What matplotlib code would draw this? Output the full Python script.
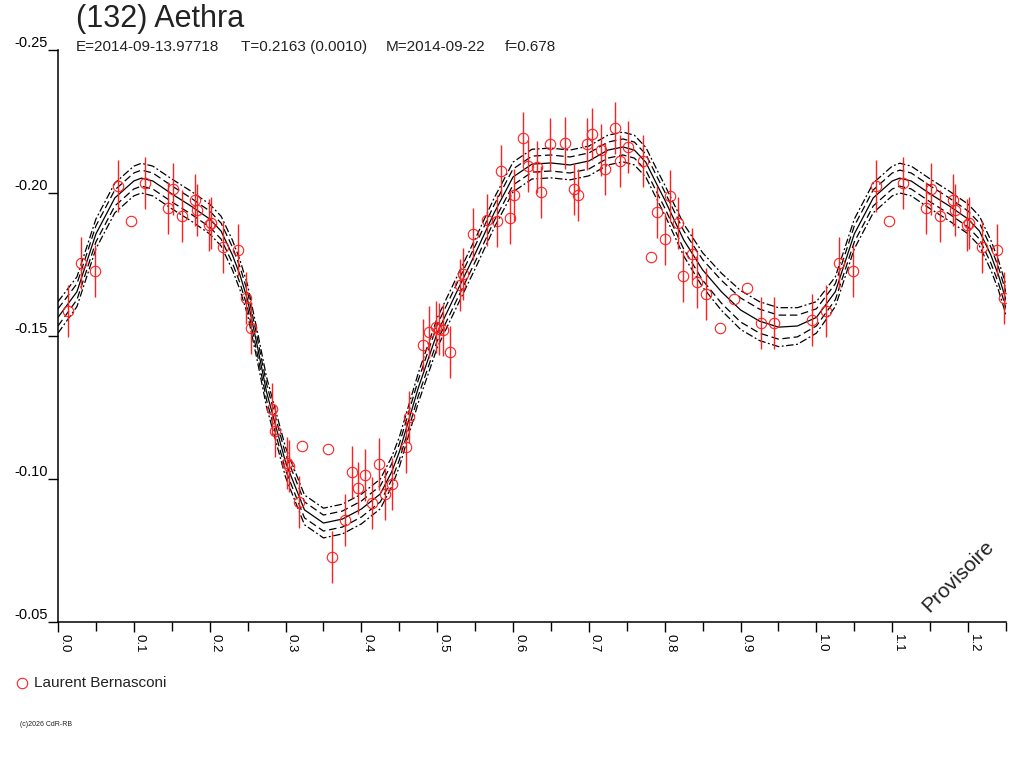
import numpy as np
import matplotlib
import matplotlib.pyplot as plt
from matplotlib.ticker import MultipleLocator, FormatStrFormatter

matplotlib.use("agg")
plt.rcParams['font.family'] = ['Liberation Sans', 'DejaVu Sans']
plt.rcParams['axes.unicode_minus'] = False

# Observations (phase, relative magnitude, 1-sigma error; 0 = no bar drawn)
obs_phase = [0.0132, 0.0303, 0.0488, 0.0792, 0.0963, 0.1148, 0.1451, 0.1517, 0.1636, 0.1807,
             0.1834, 0.1992, 0.2018, 0.2177, 0.2375, 0.2480, 0.2546, 0.2823, 0.2863, 0.3021,
             0.3047, 0.3179, 0.3219, 0.3562, 0.3615, 0.3786, 0.3879, 0.3958, 0.4050, 0.4142,
             0.4235, 0.4314, 0.4406, 0.4591, 0.4631, 0.4815, 0.4894, 0.4987, 0.5026, 0.5079,
             0.5172, 0.5303, 0.5343, 0.5475, 0.5660, 0.5792, 0.5844, 0.5963, 0.6016, 0.6135,
             0.6201, 0.6319, 0.6372, 0.6491, 0.6689, 0.6807, 0.6860, 0.6979, 0.7045, 0.7164,
             0.7216, 0.7348, 0.7414, 0.7520, 0.7718, 0.7823, 0.7902, 0.8008, 0.8074, 0.8179,
             0.8245, 0.8364, 0.8430, 0.8549, 0.8734, 0.8918, 0.9090, 0.9274, 0.9446, 0.9947]
obs_mag = [-0.1587, -0.1755, -0.1727, -0.2024, -0.1902, -0.2035, -0.1948, -0.2014, -0.1920, -0.1976,
           -0.1941, -0.1888, -0.1895, -0.1811, -0.1801, -0.1633, -0.1528, -0.1245, -0.1168, -0.1056,
           -0.1045, -0.0920, -0.1115, -0.1105, -0.0727, -0.0857, -0.1025, -0.0969, -0.1014, -0.0916,
           -0.1052, -0.0948, -0.0983, -0.1112, -0.1217, -0.1469, -0.1514, -0.1532, -0.1524, -0.1521,
           -0.1444, -0.1678, -0.1717, -0.1857, -0.1906, -0.1902, -0.2077, -0.1913, -0.1993, -0.2192,
           -0.2094, -0.2091, -0.2003, -0.2171, -0.2175, -0.2014, -0.1993, -0.2171, -0.2206, -0.2150,
           -0.2084, -0.2227, -0.2112, -0.2161, -0.2112, -0.1776, -0.1934, -0.1839, -0.1990, -0.1895,
           -0.1710, -0.1787, -0.1689, -0.1647, -0.1528, -0.1629, -0.1668, -0.1545, -0.1545, -0.1556]
obs_err = [0.009, 0.009, 0.009, 0.009, 0.0, 0.009, 0.009, 0.009, 0.009, 0.009,
           0.009, 0.009, 0.009, 0.009, 0.009, 0.009, 0.009, 0.009, 0.009, 0.009,
           0.009, 0.009, 0.0, 0.0, 0.009, 0.009, 0.009, 0.009, 0.009, 0.009,
           0.009, 0.009, 0.009, 0.009, 0.009, 0.009, 0.009, 0.009, 0.009, 0.009,
           0.009, 0.009, 0.009, 0.009, 0.009, 0.009, 0.009, 0.009, 0.009, 0.009,
           0.009, 0.009, 0.009, 0.009, 0.009, 0.009, 0.009, 0.009, 0.009, 0.009,
           0.009, 0.009, 0.009, 0.009, 0.009, 0.0, 0.009, 0.009, 0.009, 0.009,
           0.009, 0.009, 0.009, 0.009, 0.0, 0.0, 0.0, 0.009, 0.009, 0.009]

# Fitted curve, with the two envelopes (half widths)
fit_phase = [0.0, 0.025, 0.05, 0.075, 0.1, 0.11, 0.125, 0.15, 0.175, 0.2, 0.215, 0.23,
             0.24, 0.25, 0.2625, 0.275, 0.3, 0.325, 0.35, 0.375, 0.4, 0.425, 0.44, 0.45,
             0.475, 0.5, 0.525, 0.55, 0.575, 0.6, 0.625, 0.65, 0.675, 0.7, 0.725, 0.745,
             0.76, 0.775, 0.79, 0.8, 0.825, 0.85, 0.875, 0.9, 0.925, 0.95, 0.975, 1.0]
fit_mag = [-0.1565, -0.1655, -0.1857, -0.1983, -0.2042, -0.2052, -0.2042, -0.1997, -0.1955, -0.1909,
           -0.1867, -0.1783, -0.1713, -0.1626, -0.1469, -0.1304, -0.1059, -0.0892, -0.0846, -0.0860,
           -0.0895, -0.0948, -0.1025, -0.1094, -0.1318, -0.1511, -0.1650, -0.1787, -0.1930, -0.2056,
           -0.2101, -0.2105, -0.2098, -0.2112, -0.2150, -0.2161, -0.2150, -0.2108, -0.2028, -0.1976,
           -0.1836, -0.1731, -0.1654, -0.1591, -0.1552, -0.1531, -0.1535, -0.1565]
band1 = [0.0030, 0.0028, 0.0028, 0.0028, 0.0028, 0.0028, 0.0028, 0.0028, 0.0028, 0.0028,
         0.0028, 0.0028, 0.0028, 0.0028, 0.0028, 0.0028, 0.0028, 0.0028, 0.0028, 0.0028,
         0.0028, 0.0028, 0.0028, 0.0028, 0.0028, 0.0028, 0.0028, 0.0028, 0.0028, 0.0028,
         0.0028, 0.0028, 0.0028, 0.0028, 0.0028, 0.0028, 0.0028, 0.0028, 0.0028, 0.0028,
         0.0032, 0.0036, 0.0040, 0.0042, 0.0042, 0.0042, 0.0038, 0.0030]
band2 = [0.0055, 0.0052, 0.0052, 0.0052, 0.0052, 0.0052, 0.0052, 0.0052, 0.0052, 0.0052,
         0.0052, 0.0052, 0.0052, 0.0052, 0.0052, 0.0052, 0.0052, 0.0052, 0.0052, 0.0052,
         0.0052, 0.0052, 0.0052, 0.0052, 0.0052, 0.0052, 0.0052, 0.0052, 0.0052, 0.0052,
         0.0052, 0.0052, 0.0052, 0.0052, 0.0052, 0.0052, 0.0052, 0.0052, 0.0052, 0.0052,
         0.0056, 0.0060, 0.0065, 0.0068, 0.0068, 0.0068, 0.0064, 0.0055]

title = "(132) Aethra"
subtitle_parts = ["E=2014-09-13.97718", "T=0.2163 (0.0010)", "M=2014-09-22", "f=0.678"]
subtitle_x = [76, 241, 386, 505]
observer = "Laurent Bernasconi"
xmax = 1.25

# repeat the start of the cycle after phase 1
ph = np.array(obs_phase)
mg = np.array(obs_mag)
er = np.array(obs_err)
rep = ph + 1 <= xmax
ph = np.concatenate([ph, ph[rep] + 1])
mg = np.concatenate([mg, mg[rep]])
er = np.concatenate([er, er[rep]])

fp = np.array(fit_phase)
fm = np.array(fit_mag)
b1 = np.array(band1)
b2 = np.array(band2)
rep = fp <= 0.2625
fp = np.concatenate([fp, fp[rep][1:] + 1])
fm = np.concatenate([fm, fm[rep][1:]])
b1 = np.concatenate([b1, b1[rep][1:]])
b2 = np.concatenate([b2, b2[rep][1:]])

fig = plt.figure(figsize=(10.24, 7.68), dpi=100)
ax = fig.add_axes([58/1024, 1-622/768, 948/1024, 572/768])

red = "#ff2020"
lw = 0.9
ax.plot(fp, fm, color="black", lw=lw)
for s in (-1, 1):
    ax.plot(fp, fm + s*b1, color="black", lw=lw, dashes=(6, 3))
    ax.plot(fp, fm + s*b2, color="black", lw=lw, dashes=(6, 2, 1.5, 2))

has = er > 0
ax.vlines(ph[has], mg[has] - er[has], mg[has] + er[has], color=red, lw=1.0)
ax.plot(ph, mg, "o", mfc="none", mec=red, ms=7.5, mew=0.8)

ax.set_xlim(0, xmax)
ax.set_ylim(-0.05, -0.25)
ax.spines["top"].set_visible(False)
ax.spines["right"].set_visible(False)
for sp in ("left", "bottom"):
    ax.spines[sp].set_linewidth(1.1)
ax.xaxis.set_major_locator(MultipleLocator(0.1))
ax.xaxis.set_minor_locator(MultipleLocator(0.05))
ax.xaxis.set_major_formatter(FormatStrFormatter("%.1f"))
ax.yaxis.set_major_locator(MultipleLocator(0.05))
ax.yaxis.set_major_formatter(FormatStrFormatter("%.2f"))
ax.tick_params(axis="x", which="major", length=7.5, width=1, pad=1, labelsize=9.5)
ax.tick_params(axis="x", which="minor", length=6.5, width=1)
ax.tick_params(axis="y", length=7.2, width=1, pad=0, labelsize=10.5)
plt.setp(ax.get_xticklabels(), rotation=270, ha="left")
plt.setp(ax.get_yticklabels(), va="bottom")

fig.text(76/1024, 1-19/768, title, fontsize=22, va="center", color="#222222")
for part, px in zip(subtitle_parts, subtitle_x):
    fig.text(px/1024, 1-47/768, part, fontsize=11, va="center", color="#222222")
fig.text(958/1024, 1-576/768, "Provisoire", fontsize=15, rotation=45,
         ha="center", va="center", color="#222222")
fig.lines.append(plt.Line2D([22/1024], [1-683/768], marker="o", mfc="none", mec=red,
                            ms=7.5, mew=0.8, transform=fig.transFigure))
fig.text(34/1024, 1-683/768, observer, fontsize=11, va="center", color="#222222")
fig.text(20/1024, 1-725/768, "(c)2026 CdR-RB", fontsize=5, va="center", color="#222222")

fig.savefig("out.png", dpi=100)
plt.close()
